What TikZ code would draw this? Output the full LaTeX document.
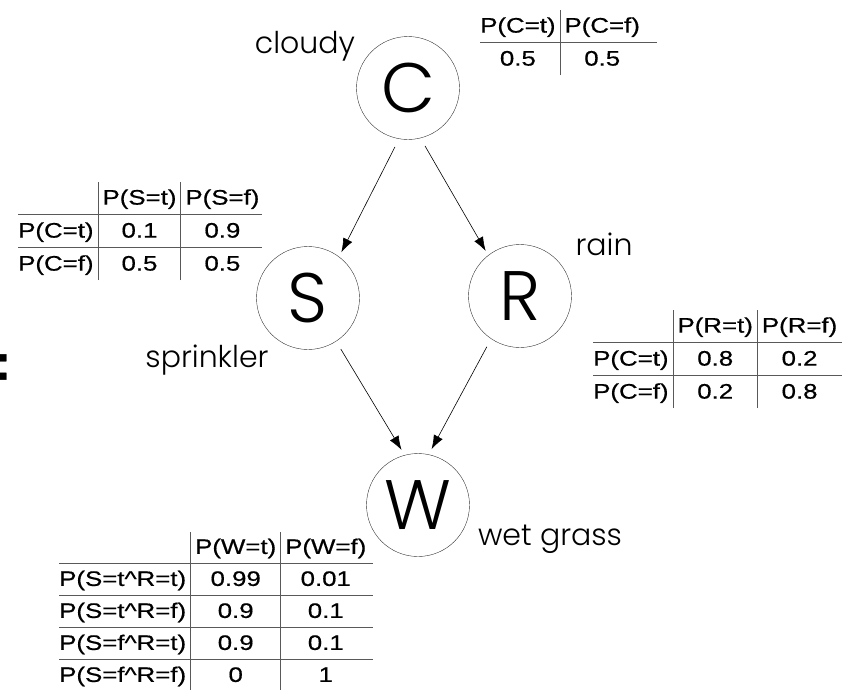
\documentclass[tikz,border=0pt]{standalone}
\usepackage{fontspec}
\usepackage{colortbl}
\usepackage{tikz}
\usetikzlibrary{positioning,arrows.meta}
\newfontfamily\nodefont{Poppins Light}
\newfontfamily\tabfont[FakeStretch=1.23,FakeBold=0.6]{Liberation Sans}
\setlength{\arrayrulewidth}{1pt}
\setlength{\tabcolsep}{4pt}
\arrayrulecolor{black!65}

\begin{document}
\begin{tikzpicture}[x=1pt,y=-1pt]
\tikzstyle{main}=[circle, minimum size = 103pt, inner sep=0pt, draw =black!80, on grid, font=\nodefont\fontsize{70}{70}\selectfont]
\tikzstyle{connect}=[-{Latex[length=14pt,width=10pt]}, semithick, shorten <=9pt, shorten >=5pt]
\tikzstyle{tag}=[inner sep=0pt, font=\nodefont\fontsize{30}{30}\selectfont]
\tikzstyle{cpt}=[anchor=north west, inner sep=0pt, font=\tabfont\fontsize{21}{32}\selectfont]
\useasboundingbox (0,0) rectangle (842,689);
  \node[main] (C) at (408,88) {C};
  \node[main] (S) [below left=210pt and 100pt of C] {S};
  \node[main] (R) [below right=208pt and 112pt of C] {R};
  \node[main] (W) [below right=207pt and 110pt of S] {W};
  \path (C.260) edge [connect] (S.53);
  \path (C.284) edge [connect] (R.128);
  \path (S.303) edge [connect, shorten >=6pt] (W.105);
  \path (R.236) edge [connect, shorten >=6pt] (W.78);
  \node[tag] (cloudy) at (305,46) {cloudy};
  \node[tag] (rain) at (604,244) {rain};
  \node[tag] (sprinkler) at (207,360) {sprinkler};
  \node[tag] (wetgrass) at (550,539) {wet grass};
  % conditional probability tables
  \node[cpt] (cptC) at (480,10) {\begin{tabular}{@{}c|c@{\hspace{17pt}}}
    P(C=t) & P(C=f)\\ \hline
    0.5 & 0.5
  \end{tabular}};
  \node[cpt] (cptS) at (18,182) {\begin{tabular}{@{}l|c|c@{\hspace{3pt}}}
    & P(S=t) & P(S=f)\\ \hline
    P(C=t) & 0.1 & 0.9\\ \hline
    P(C=f) & 0.5 & 0.5
  \end{tabular}};
  \node[cpt] (cptR) at (593,310) {\begin{tabular}{@{}l|c|c@{\hspace{6pt}}}
    & P(R=t) & P(R=f)\\ \hline
    P(C=t) & 0.8 & 0.2\\ \hline
    P(C=f) & 0.2 & 0.8
  \end{tabular}};
  \node[cpt, font=\tabfont\fontsize{21}{31}\selectfont] (cptW) at (59,532) {\begin{tabular}{@{}l|c|c@{\hspace{7pt}}}
    & P(W=t) & P(W=f)\\ \hline
    P(S=t\textasciicircum R=t) & 0.99 & 0.01\\ \hline
    P(S=t\textasciicircum R=f) & 0.9 & 0.1\\ \hline
    P(S=f\textasciicircum R=t) & 0.9 & 0.1\\ \hline
    P(S=f\textasciicircum R=f) & 0 & 1
  \end{tabular}};
  \node[inner sep=0pt, font=\tabfont\bfseries\fontsize{50}{50}\selectfont] (colon) at (2,367) {:};
\end{tikzpicture}
\end{document}
